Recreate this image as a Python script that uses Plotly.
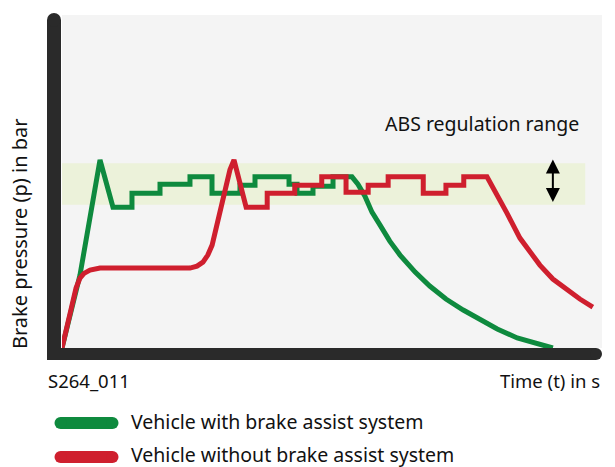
import plotly.graph_objects as go

# ---------------- data (time in arbitrary units 0..100, pressure 0..100) -------------
green_t = [0, 3.33, 7.04, 9.44, 12.96, 12.96, 18.15, 18.15, 23.7, 23.7, 27.78, 27.78,
           32.96, 32.96, 35.74, 35.74, 42.04, 42.04, 43.52, 43.52, 46.48, 46.48, 50.19,
           50.19, 53.7, 54.8, 56.1, 57.4, 58.9, 60.7, 62.6, 65.4, 68.1, 71.1, 74.3, 77.4,
           80.6, 84.3, 88.0, 90.9]
green_p = [0, 21.9, 56.5, 42.3, 42.3, 46.5, 46.5, 49.2, 49.2, 51.4, 51.4, 46.5,
           46.5, 48.9, 48.9, 51.4, 51.4, 49.2, 49.2, 46.5, 46.5, 48.6, 48.6,
           51.4, 51.4, 49.2, 45.6, 40.8, 36.9, 32.1, 27.9, 22.8, 18.6, 14.7, 11.4, 8.4,
           5.7, 3.0, 1.2, 0]

red_t = [0, 2.6, 3.33, 4.07, 5.19, 7.04, 23.7, 25.0, 26.1, 27.0, 27.8, 28.5, 29.4, 30.4,
         31.1, 31.85, 34.1, 38.0, 38.0, 43.1, 43.1, 48.1, 48.1, 52.6, 52.6, 56.7, 56.7,
         60.4, 60.4, 66.9, 66.9, 71.1, 71.1, 74.4, 74.4, 78.7, 79.8, 81.1, 82.4, 84.8,
         86.7, 88.5, 90.9, 93.5, 95.9, 98.3]
red_p = [0, 18.0, 21.0, 22.4, 23.4, 24.0, 24.0, 24.6, 25.8, 27.9, 30.9, 35.4, 41.4, 48.0,
         53.5, 56.5, 42.3, 42.3, 46.5, 46.5, 48.9, 48.9, 51.4, 51.4, 46.8, 46.8, 48.9,
         48.9, 51.4, 51.4, 46.5, 46.5, 48.9, 48.9, 51.4, 51.4, 48.3, 44.4, 40.5, 33.0,
         28.8, 24.9, 20.7, 17.4, 14.7, 12.3]

band_range = [43.0, 55.5]      # ABS regulation range (pressure)
band_end_t = 96.9
arrow_t = 90.9
arrow_range = [43.4, 56.6]

series_names = ["Vehicle with brake assist system", "Vehicle without brake assist system"]
y_title = "Brake pressure (p) in bar"
x_title = "Time (t) in s"
fig_code = "S264_011"
band_label = "ABS regulation range"

# ---------------- layout helpers ----------------
W, H = 615, 467
L, R, T, B = 62, 13, 15, 119
PW, PH = W - L - R, H - T - B


def px(x):
    return (x - L) / PW


def py(y):
    return (H - B - y) / PH


GREEN = "#0e8a3e"
RED = "#cf1f2e"
DARK = "#2a2a2a"
FONT = "Noto Sans"

fig = go.Figure()
fig.add_trace(go.Scatter(x=green_t, y=green_p, mode="lines", name=series_names[0],
                         line=dict(color=GREEN, width=5), showlegend=False))
fig.add_trace(go.Scatter(x=red_t, y=red_p, mode="lines", name=series_names[1],
                         line=dict(color=RED, width=5), showlegend=False))

shapes = []
# ABS band
shapes.append(dict(type="rect", xref="x", yref="y", x0=0, x1=band_end_t,
                   y0=band_range[0], y1=band_range[1], fillcolor="#ecf2da",
                   line=dict(width=0), layer="below"))
# axis bars
shapes.append(dict(type="rect", xref="paper", yref="paper", x0=px(47), x1=px(61),
                   y0=py(360), y1=py(20), fillcolor=DARK, line=dict(width=0)))
shapes.append(dict(type="circle", xref="paper", yref="paper", x0=px(47), x1=px(61),
                   y0=py(27), y1=py(13), fillcolor=DARK, line=dict(width=0)))
shapes.append(dict(type="rect", xref="paper", yref="paper", x0=px(47), x1=px(596),
                   y0=py(360), y1=py(348), fillcolor=DARK, line=dict(width=0)))
shapes.append(dict(type="circle", xref="paper", yref="paper", x0=px(590), x1=px(602),
                   y0=py(360), y1=py(348), fillcolor=DARK, line=dict(width=0)))

# legend bars
for cy, col in [(423, GREEN), (457, RED)]:
    h = 6
    shapes.append(dict(type="rect", xref="paper", yref="paper", x0=px(60.5), x1=px(112.5),
                       y0=py(cy + h), y1=py(cy - h), fillcolor=col, line=dict(width=0)))
    for cx in (60.5, 112.5):
        shapes.append(dict(type="circle", xref="paper", yref="paper", x0=px(cx - h),
                           x1=px(cx + h), y0=py(cy + h), y1=py(cy - h), fillcolor=col,
                           line=dict(width=0)))

annotations = []
# double arrow
annotations.append(dict(x=arrow_t, y=arrow_range[1], ax=arrow_t, ay=arrow_range[0],
                        xref="x", yref="y", axref="x", ayref="y", text="",
                        showarrow=True, arrowhead=2, startarrowhead=2,
                        arrowside="end+start", arrowwidth=2, arrowsize=1.4,
                        startarrowsize=1.4, arrowcolor="black"))


def txt(s, x, y, size, xanchor="left", angle=0):
    annotations.append(dict(text=s, x=px(x), y=py(y), xref="paper", yref="paper",
                            showarrow=False, xanchor=xanchor, yanchor="middle",
                            textangle=angle, font=dict(family=FONT, size=size, color="#111")))


txt(band_label, 482, 124, 19.5, "center")
txt(y_title, 20, 234, 20, "center", -90)
txt(fig_code, 46, 380, 18.5, "left")
txt(x_title, 602, 380, 18.5, "right")
txt(series_names[0], 129, 421, 19.5, "left")
txt(series_names[1], 129, 454, 19.5, "left")

fig.update_layout(
    width=W, height=H, margin=dict(l=L, r=R, t=T, b=B),
    paper_bgcolor="white", plot_bgcolor="#f4f4f4",
    xaxis=dict(range=[0, 100], visible=False, fixedrange=True),
    yaxis=dict(range=[0, 100], visible=False, fixedrange=True),
    shapes=shapes, annotations=annotations, showlegend=False,
)
fig.write_html("out.html", config={"displayModeBar": False},
               post_script="document.body.style.margin='0';"
                           "document.body.style.overflow='hidden';")
